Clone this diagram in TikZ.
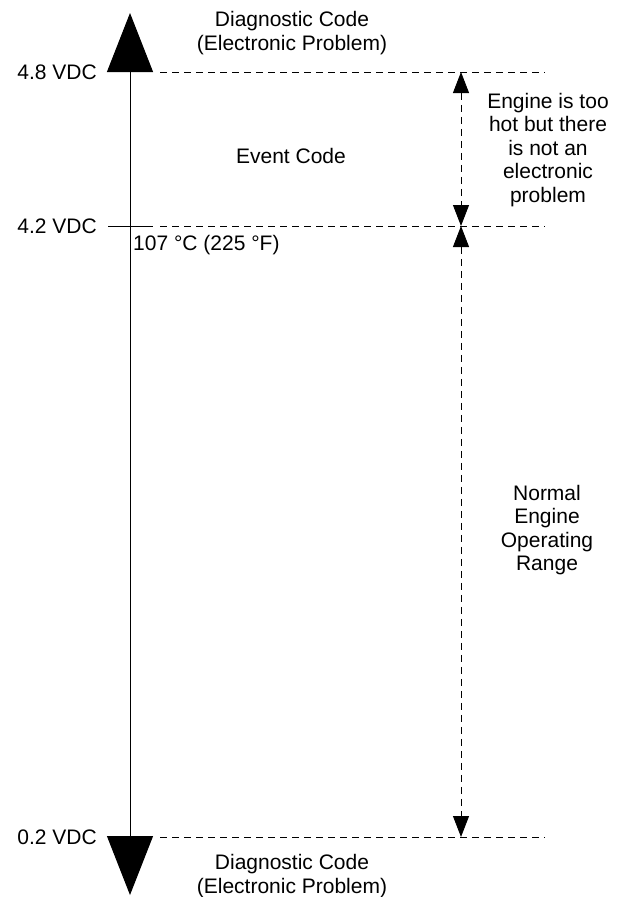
\documentclass[tikz,border=0pt]{standalone}
\usepackage{fontspec}
\setmainfont{Liberation Sans}
\usetikzlibrary{arrows.meta}
\begin{document}
\begin{tikzpicture}[x=1pt,y=-1pt,
                txt/.style={
                    font=\fontsize{21}{23.5}\selectfont,
                    align=center,
                    inner sep=0pt
                },
                voltage/.style={
                    txt,
                    anchor=east
                },
                level/.style={
                    line width=0.9pt,
                    dash pattern=on 7pt off 5pt
                },
                axis/.style={
                    line width=1pt,
                    {Triangle[width=46pt,length=59pt]}-{Triangle[width=46pt,length=59pt]}
                },
                span/.style={
                    level,
                    {Triangle[width=16pt,length=21pt]}-{Triangle[width=16pt,length=21pt]}
                }
            ]
                \useasboundingbox (0,0) rectangle (620,897);

                \coordinate (top) at (130,13);
                \coordinate (bottom) at (130,895);
                \coordinate (hi) at (461,72);
                \coordinate (mid) at (461,226);
                \coordinate (lo) at (461,837);

                \node[voltage] (v48) at (97,72) {4.8 VDC};
                \node[voltage] (v42) at (97,226) {4.2 VDC};
                \node[voltage] (v02) at (97,837) {0.2 VDC};
                \node[txt, anchor=west] (temp) at (133,245) {107 °C (225 °F)};

                \node[txt] (diagtop) at (292,33) {Diagnostic Code\\(Electronic Problem)};
                \node[txt] (event) at (291,156) {Event Code};
                \node[txt] (diagbot) at (292,876) {Diagnostic Code\\(Electronic Problem)};
                \node[txt] (hot) at (548,150) {Engine is too\\hot but there\\is not an\\electronic\\problem};
                \node[txt] (normal) at (547,530) {Normal\\Engine\\Operating\\Range};

                \draw[level] (160,72) -- (545,72);
                \draw[line width=0.9pt] (108,226) -- (153,226);
                \draw[level] (160,226) -- (545,226);
                \draw[level] (160,837) -- (545,837);

                \draw[axis] (top) -- (bottom);
                \draw[span] (hi) -- (mid);
                \draw[span] (mid) -- (lo);
        \end{tikzpicture}
\end{document}
